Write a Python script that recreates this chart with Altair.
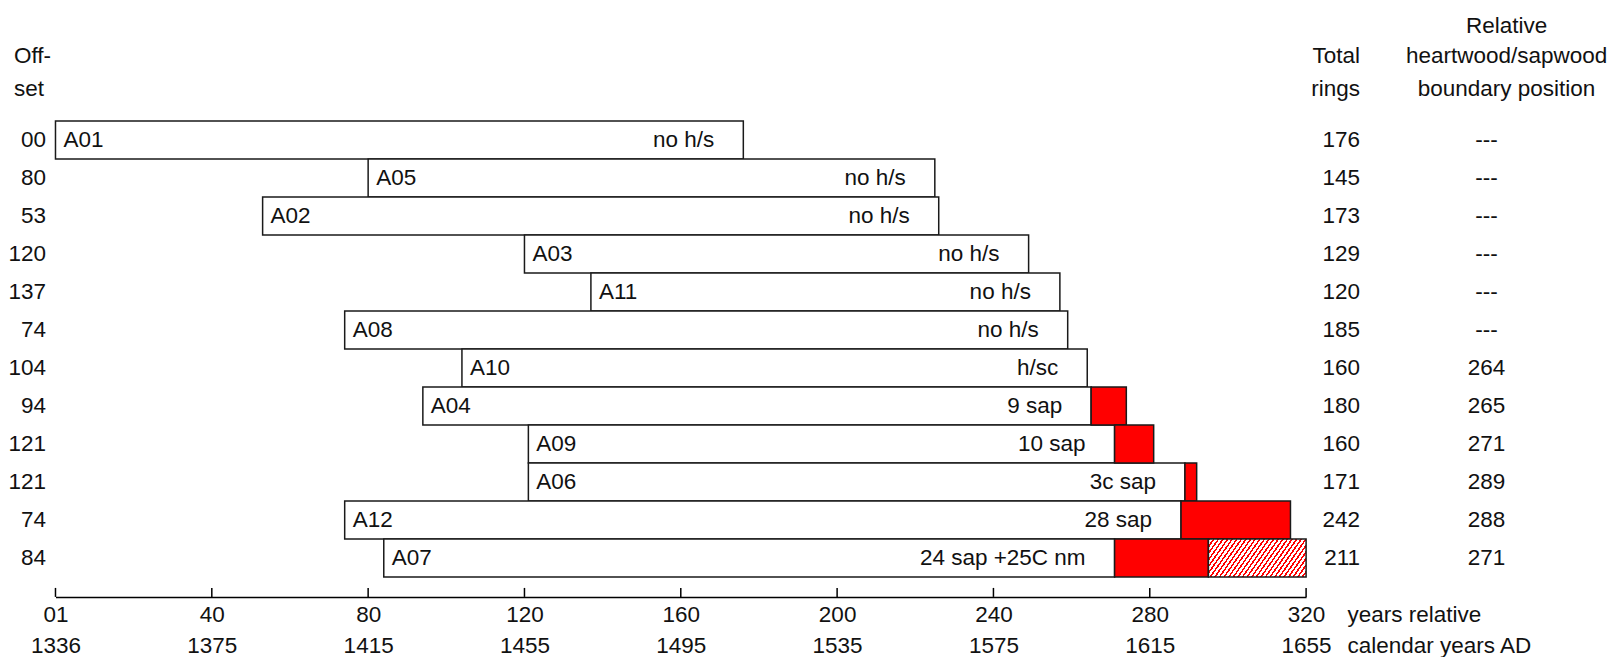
import altair as alt
import pandas as pd

# ---------------- data ----------------
samples = ["A01", "A05", "A02", "A03", "A11", "A08", "A10", "A04", "A09", "A06", "A12", "A07"]
offsets = [0, 80, 53, 120, 137, 74, 104, 94, 121, 121, 74, 84]
offset_labels = ["00", "80", "53", "120", "137", "74", "104", "94", "121", "121", "74", "84"]
total_rings = [176, 145, 173, 129, 120, 185, 160, 180, 160, 171, 242, 211]
hs_boundary = [None, None, None, None, None, None, 264, 265, 271, 289, 288, 271]
notes = ["no h/s", "no h/s", "no h/s", "no h/s", "no h/s", "no h/s",
         "h/sc", "9 sap", "10 sap", "3c sap", "28 sap", "24 sap +25C nm"]
unmeasured = [0, 0, 0, 0, 0, 0, 0, 0, 0, 0, 0, 25]

tick_values = [0, 40, 80, 120, 160, 200, 240, 280, 320]
relative_labels = ["01", "40", "80", "120", "160", "200", "240", "280", "320"]
calendar_labels = ["1336", "1375", "1415", "1455", "1495", "1535", "1575", "1615", "1655"]

# ---------------- table ----------------
rows = []
for i, s in enumerate(samples):
    end = offsets[i] + total_rings[i]
    b = hs_boundary[i]
    rows.append(dict(
        sample=s,
        start=offsets[i],
        heart_end=b if b is not None else end,
        end=end,
        nm_end=end + unmeasured[i],
        note=notes[i],
        off=offset_labels[i],
        rings=str(total_rings[i]),
        bnd=str(b) if b is not None else "---",
    ))
df = pd.DataFrame(rows)
ticks_df = pd.DataFrame({"v": tick_values})

# ---------------- styling ----------------
FONT = "Liberation Sans"
FS = 22.5
INK = "#111111"
EDGE = "#1a1a1a"
W, H = 1251, 456
AXIS_OFFSET = 20

pairs = ",".join(f"['{a}','{b}']" for a, b in zip(relative_labels, calendar_labels))
vals = ",".join(str(v) for v in tick_values)
label_expr = f"[{pairs}][indexof([{vals}], datum.value)]"

xscale = alt.Scale(domain=[0, 320], nice=False, zero=False)
xaxis = alt.Axis(
    values=tick_values, labelExpr=label_expr, title=None, grid=False,
    ticks=False, tickSize=0, domainColor="black", domainWidth=1.5,
    offset=AXIS_OFFSET, labelFont=FONT, labelFontSize=FS, labelColor=INK,
    labelPadding=7, labelLineHeight=31, labelFlush=False, labelOverlap=False,
)
yenc = alt.Y("sample:N", sort=samples,
             scale=alt.Scale(paddingInner=0, paddingOuter=0), axis=None)

base = alt.Chart(df)

heart = base.mark_bar(fill="white", stroke=EDGE, strokeWidth=1.5).encode(
    x=alt.X("start:Q", scale=xscale, axis=xaxis), x2="heart_end:Q", y=yenc)

sap = base.transform_filter("datum.end > datum.heart_end").mark_bar(
    fill="#ff0000", stroke=EDGE, strokeWidth=1.5).encode(
    x=alt.X("heart_end:Q", scale=xscale, axis=xaxis), x2="end:Q", y=yenc)

N = 27
frac = 0.4
stops = []
for i in range(N):
    a, b, c = round(i / N, 5), round((i + frac) / N, 5), round((i + 1) / N, 5)
    stops += [{"offset": a, "color": "#ff0000"}, {"offset": b, "color": "#ff0000"},
              {"offset": b, "color": "#ffffff"}, {"offset": c, "color": "#ffffff"}]
hatch_fill = {"gradient": "linear", "x1": 0, "y1": 0, "x2": 1.1845, "y2": 0.3228,
              "stops": stops}

hatch = base.transform_filter("datum.nm_end > datum.end").mark_bar(
    fill=hatch_fill, stroke=EDGE, strokeWidth=1.5).encode(
    x=alt.X("end:Q", scale=xscale, axis=xaxis), x2="nm_end:Q", y=yenc)

txt = dict(font=FONT, fontSize=FS, color=INK, baseline="middle")

name_text = base.mark_text(align="left", dx=8, **txt).encode(
    x=alt.X("start:Q", scale=xscale, axis=xaxis), y=yenc, text="sample:N")
note_text = base.mark_text(align="right", dx=-29, **txt).encode(
    x=alt.X("heart_end:Q", scale=xscale, axis=xaxis), y=yenc, text="note:N")
off_text = base.mark_text(align="right", **txt).encode(
    x=alt.value(-9.5), y=yenc, text="off:N")
ring_text = base.mark_text(align="right", **txt).encode(
    x=alt.value(1305), y=yenc, text="rings:N")
bnd_text = base.mark_text(align="center", **txt).encode(
    x=alt.value(1431.5), y=yenc, text="bnd:N")

tick_rules = alt.Chart(ticks_df).mark_rule(color="black", strokeWidth=1.5).encode(
    x=alt.X("v:Q", scale=xscale, axis=xaxis),
    y=alt.value(H + AXIS_OFFSET - 9), y2=alt.value(H + AXIS_OFFSET))


def label(t, x, y, align):
    return alt.Chart(pd.DataFrame({"t": [t]})).mark_text(align=align, **txt).encode(
        x=alt.value(x), y=alt.value(y), text="t:N")


headers = [
    label("Off-", -41.5, -65, "left"),
    label("set", -41.5, -32, "left"),
    label("Total", 1305, -65, "right"),
    label("rings", 1305, -32, "right"),
    label("Relative", 1451.5, -95, "center"),
    label("heartwood/sapwood", 1451.5, -65, "center"),
    label("boundary position", 1451.5, -32, "center"),
    label("years relative", 1292.5, H + AXIS_OFFSET + 18, "left"),
    label("calendar years AD", 1292.5, H + AXIS_OFFSET + 49, "left"),
]

chart = alt.layer(
    heart, sap, hatch, tick_rules, name_text, note_text, off_text, ring_text, bnd_text,
    *headers,
).properties(
    width=W, height=H,
    autosize=alt.AutoSizeParams(type="none"),
    padding={"left": 47.5, "top": 113, "right": 305, "bottom": 80},
    background="white",
).configure_view(stroke=None)

chart.save("out.html", embed_options={"renderer": "svg", "actions": False})
